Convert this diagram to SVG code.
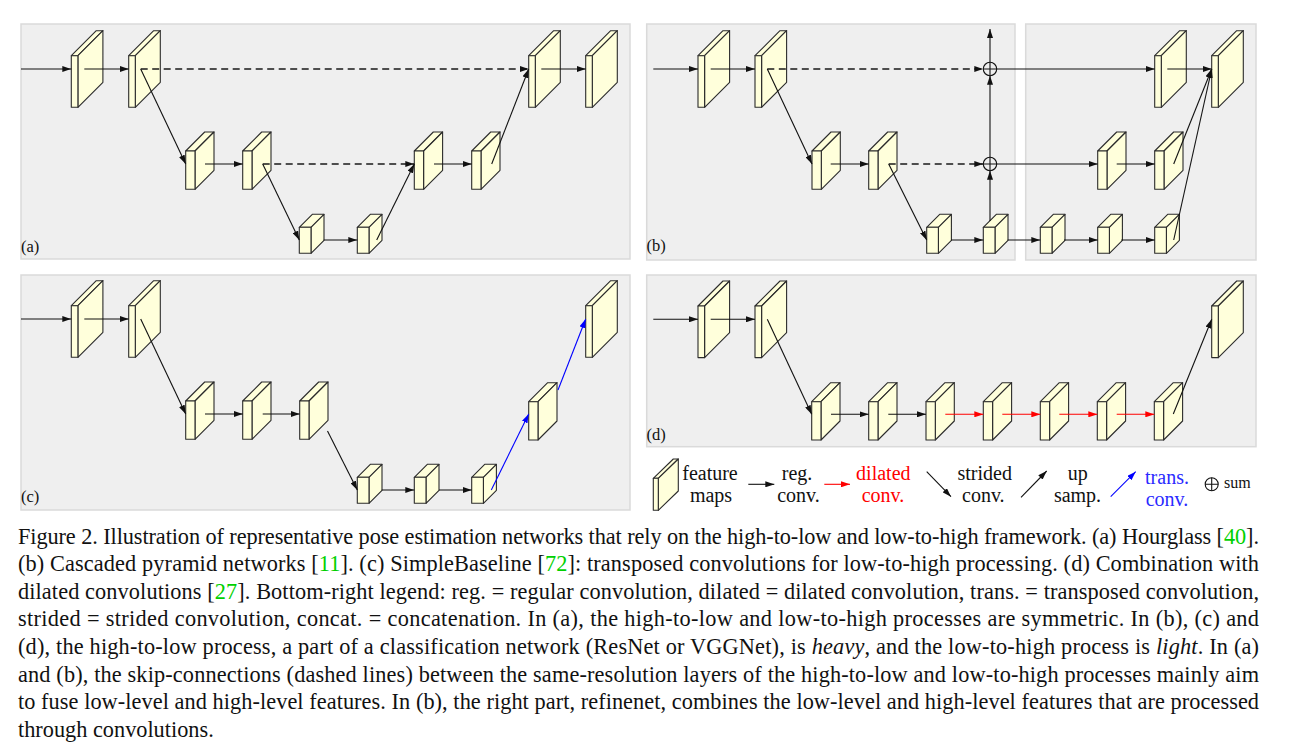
<svg xmlns="http://www.w3.org/2000/svg" width="1310" height="752" viewBox="0 0 1310 752">
<style>
.panel{fill:#efefef;stroke:#dadada;stroke-width:1.5}
.face{fill:#ffffdb;stroke:#2b2b2b;stroke-width:1.1;stroke-linejoin:round}
.c{fill:none;stroke:#111;stroke-width:1.1;marker-end:url(#ah)}
.d{stroke:#1a1a1a;stroke-width:1.3;stroke-dasharray:7 4.5}
.r{stroke:#f00;marker-end:url(#ahr)}
.b{stroke:#00f;marker-end:url(#ahb)}
.n{fill:none;stroke:#111;stroke-width:1.1}
.t{font-family:"Liberation Serif","Times New Roman",serif;fill:#111}
.lab{font-size:16.5px}
.leg{font-size:20px;text-anchor:middle}
.cap{font-size:22.3px}
.g{fill:#00d000}
</style>
<defs>
<marker id="ah" viewBox="0 0 9 6" refX="9" refY="3" markerWidth="9" markerHeight="6" markerUnits="userSpaceOnUse" orient="auto"><path d="M0,0 L9,3 L0,6 z" fill="#111"/></marker>
<marker id="ahr" viewBox="0 0 9 6" refX="9" refY="3" markerWidth="9" markerHeight="6" markerUnits="userSpaceOnUse" orient="auto"><path d="M0,0 L9,3 L0,6 z" fill="#f00"/></marker>
<marker id="ahb" viewBox="0 0 9 6" refX="9" refY="3" markerWidth="9" markerHeight="6" markerUnits="userSpaceOnUse" orient="auto"><path d="M0,0 L9,3 L0,6 z" fill="#00f"/></marker>
<g id="big"><polygon class="face" points="0,0 6.6,0 31.6,-25 25,-25"/><polygon class="face" points="6.6,0 31.6,-25 31.6,26.6 6.6,51.6"/><rect class="face" x="0" y="0" width="6.6" height="51.6"/></g>
<g id="med"><polygon class="face" points="0,0 9.3,0 28.3,-19 19,-19"/><polygon class="face" points="9.3,0 28.3,-19 28.3,19.3 9.3,38.3"/><rect class="face" x="0" y="0" width="9.3" height="38.3"/></g>
<g id="sml"><polygon class="face" points="0,0 11.7,0 24.7,-13 13,-13"/><polygon class="face" points="11.7,0 24.7,-13 24.7,13 11.7,26"/><rect class="face" x="0" y="0" width="11.7" height="26"/></g>
<g id="icon"><polygon class="face" points="0,0 5,0 25,-19.3 20,-19.3"/><polygon class="face" points="5,0 25,-19.3 25,12.7 5,32"/><rect class="face" x="0" y="0" width="5" height="32"/></g>
</defs>
<rect width="1310" height="752" fill="#fff"/>

<g id="panels">
<rect class="panel" x="21" y="24" width="609" height="235"/>
<rect class="panel" x="646.7" y="24" width="368.3" height="236"/>
<rect class="panel" x="1025.7" y="24" width="230.3" height="236"/>
<rect class="panel" x="21" y="275" width="609" height="235"/>
<rect class="panel" x="646.7" y="275" width="609.3" height="171.7"/>
<text class="t lab" x="21" y="252">(a)</text>
<text class="t lab" x="646.5" y="251">(b)</text>
<text class="t lab" x="21" y="502">(c)</text>
<text class="t lab" x="646.5" y="440">(d)</text>
</g>

<!-- (a) nodes -->
<g id="a-n1"><use href="#big" x="71.3" y="55.7"/></g>
<g id="a-n2"><use href="#big" x="128.7" y="55.7"/></g>
<g id="a-n3"><use href="#med" x="185.7" y="151"/></g>
<g id="a-n4"><use href="#med" x="242.7" y="151"/></g>
<g id="a-n5"><use href="#sml" x="299.3" y="227.3"/></g>
<g id="a-n6"><use href="#sml" x="357.3" y="227.3"/></g>
<g id="a-n7"><use href="#med" x="414.3" y="151"/></g>
<g id="a-n8"><use href="#med" x="471.7" y="151"/></g>
<g id="a-n9"><use href="#big" x="528.7" y="55.7"/></g>
<g id="a-n10"><use href="#big" x="585.7" y="55.7"/></g>

<!-- (b) nodes -->
<g id="b-n1"><use href="#big" x="698" y="55.7"/></g>
<g id="b-n2"><use href="#big" x="755" y="55.7"/></g>
<g id="b-n3"><use href="#med" x="812" y="151"/></g>
<g id="b-n4"><use href="#med" x="868.7" y="151"/></g>
<g id="b-n5"><use href="#sml" x="926.7" y="227.3"/></g>
<g id="b-n6"><use href="#sml" x="983.3" y="227.3"/></g>
<g id="b-n7"><use href="#sml" x="1040.3" y="227.3"/></g>
<g id="b-n8"><use href="#sml" x="1097.7" y="227.3"/></g>
<g id="b-n9"><use href="#sml" x="1154.7" y="227.3"/></g>
<g id="b-n10"><use href="#med" x="1097.7" y="151"/></g>
<g id="b-n11"><use href="#med" x="1154.7" y="151"/></g>
<g id="b-n12"><use href="#big" x="1154.7" y="55.7"/></g>
<g id="b-n13"><use href="#big" x="1211.7" y="55.7"/></g>
<g id="b-sum1"><circle class="n" cx="990" cy="69" r="6.7"/><path class="n" d="M983.3,69H996.7M990,62.3V75.7"/></g>
<g id="b-sum2"><circle class="n" cx="990" cy="164" r="6.7"/><path class="n" d="M983.3,164H996.7M990,157.3V170.7"/></g>

<!-- (c) nodes -->
<g id="c-n1"><use href="#big" x="71.3" y="305.7"/></g>
<g id="c-n2"><use href="#big" x="128.7" y="305.7"/></g>
<g id="c-n3"><use href="#med" x="185.7" y="401"/></g>
<g id="c-n4"><use href="#med" x="242.7" y="401"/></g>
<g id="c-n5"><use href="#med" x="299.7" y="401"/></g>
<g id="c-n6"><use href="#sml" x="357.3" y="477.3"/></g>
<g id="c-n7"><use href="#sml" x="414.3" y="477.3"/></g>
<g id="c-n8"><use href="#sml" x="471.7" y="477.3"/></g>
<g id="c-n9"><use href="#med" x="528.7" y="401.7"/></g>
<g id="c-n10"><use href="#big" x="585.7" y="305.7"/></g>

<!-- (d) nodes -->
<g id="d-n1"><use href="#big" x="698" y="306"/></g>
<g id="d-n2"><use href="#big" x="755" y="306"/></g>
<g id="d-n3"><use href="#med" x="811.7" y="401.7"/></g>
<g id="d-n4"><use href="#med" x="868.7" y="401.7"/></g>
<g id="d-n5"><use href="#med" x="926" y="401.7"/></g>
<g id="d-n6"><use href="#med" x="983.3" y="401.7"/></g>
<g id="d-n7"><use href="#med" x="1040.3" y="401.7"/></g>
<g id="d-n8"><use href="#med" x="1097.3" y="401.7"/></g>
<g id="d-n9"><use href="#med" x="1154.3" y="401.7"/></g>
<g id="d-n10"><use href="#big" x="1211.7" y="306"/></g>

<g id="connectors">
<!-- (a) -->
<path class="c" d="M21,69H71.3"/>
<path class="c" d="M84.3,69H128.7"/>
<path class="c d" d="M140.7,69H528.7"/>
<path class="c" d="M140.7,69L185.7,164"/>
<path class="c" d="M205,164H242.7"/>
<path class="c d" d="M262.7,164H414.3"/>
<path class="c" d="M262.7,164L299.3,240"/>
<path class="c" d="M323.7,240H357.3"/>
<path class="c" d="M376.7,240L414.3,164"/>
<path class="c" d="M434,164H471.7"/>
<path class="c" d="M491.7,164L528.7,69"/>
<path class="c" d="M541.3,69H585.7"/>
<!-- (b) -->
<path class="c" d="M653.3,69H698"/>
<path class="c" d="M710.7,69H755"/>
<path class="c d" d="M767.3,69H983.3"/>
<path class="c" d="M767.3,69L812,164"/>
<path class="c" d="M830.7,164H868.7"/>
<path class="c d" d="M888.7,164H983.3"/>
<path class="c" d="M888.7,164L926.7,240"/>
<path class="c" d="M951,240H983.3"/>
<path class="c" d="M990,221V170.7"/>
<path class="c" d="M990,157.3V75.7"/>
<path class="c" d="M990,62.3V29"/>
<path class="c" d="M996.7,69H1154.7"/>
<path class="c" d="M996.7,164H1097.7"/>
<path class="c" d="M1007.7,240H1040.3"/>
<path class="c" d="M1064,240H1097.7"/>
<path class="c" d="M1121.3,240H1154.7"/>
<path class="c" d="M1116.7,164H1154.7"/>
<path class="c" d="M1167.3,69H1211.7"/>
<path class="c" d="M1173.7,164L1211.7,69"/>
<path class="c" d="M1173.7,240L1211.7,69"/>
<!-- (c) -->
<path class="c" d="M21,319H71.3"/>
<path class="c" d="M84.3,319H128.7"/>
<path class="c" d="M140.7,319L185.7,414"/>
<path class="c" d="M205,414H242.7"/>
<path class="c" d="M262.7,414H299.7"/>
<path class="c" d="M327.5,431L357.3,490"/>
<path class="c" d="M381.7,490H414.3"/>
<path class="c" d="M439,490H471.7"/>
<path class="c b" d="M491.3,490L528.7,414"/>
<path class="c b" d="M558,390L585.7,319"/>
<!-- (d) -->
<path class="c" d="M653.3,319.3H698"/>
<path class="c" d="M710.7,319.3H755"/>
<path class="c" d="M767.3,319.3L811.7,414.3"/>
<path class="c" d="M831,414.3H868.7"/>
<path class="c" d="M888.3,414.3H926"/>
<path class="c r" d="M945.3,414.3H983.3"/>
<path class="c r" d="M1002.3,414.3H1040.3"/>
<path class="c r" d="M1059.3,414.3H1097.3"/>
<path class="c r" d="M1116.7,414.3H1154.3"/>
<path class="c" d="M1173.3,414L1211.7,319.3"/>
</g>

<g id="legend">
<use href="#icon" x="653.3" y="478.3"/>
<text class="t leg" x="710" y="480">feature</text>
<text class="t leg" x="711" y="501.7">maps</text>
<path class="c" d="M748.3,484.3H774.3"/>
<text class="t leg" x="797" y="480">reg.</text>
<text class="t leg" x="798.5" y="501.7">conv.</text>
<path class="c r" d="M824.3,484.3H850"/>
<text class="t leg" x="883.3" y="480" style="fill:#f00">dilated</text>
<text class="t leg" x="883" y="501.7" style="fill:#f00">conv.</text>
<path class="c" d="M926.7,471.7L951,496.7"/>
<text class="t leg" x="984.7" y="480">strided</text>
<text class="t leg" x="983.3" y="501.7">conv.</text>
<path class="c" d="M1021,497.3L1046.7,471"/>
<text class="t leg" x="1077.8" y="480">up</text>
<text class="t leg" x="1077.5" y="501.7">samp.</text>
<path class="c b" d="M1110.7,496.7L1135.7,471.7"/>
<text class="t leg" x="1167" y="484.3" style="fill:#2a2aff">trans.</text>
<text class="t leg" x="1167" y="505.7" style="fill:#2a2aff">conv.</text>
<circle class="n" cx="1211.7" cy="484.3" r="6.5"/>
<path class="n" d="M1205.2,484.3H1218.2M1211.7,477.8V490.8"/>
<text class="t" x="1224" y="488.3" style="font-size:16px">sum</text>
</g>

<g id="caption">
<text class="t cap" x="18" y="543.5" textLength="1241" lengthAdjust="spacing">Figure 2. Illustration of representative pose estimation networks that rely on the high-to-low and low-to-high framework. (a) Hourglass [<tspan class="g">40</tspan>].</text>
<text class="t cap" x="18" y="571.1" textLength="1241" lengthAdjust="spacing">(b) Cascaded pyramid networks [<tspan class="g">11</tspan>]. (c) SimpleBaseline [<tspan class="g">72</tspan>]: transposed convolutions for low-to-high processing. (d) Combination with</text>
<text class="t cap" x="18" y="598.7" textLength="1241" lengthAdjust="spacing">dilated convolutions [<tspan class="g">27</tspan>]. Bottom-right legend: reg. = regular convolution, dilated = dilated convolution, trans. = transposed convolution,</text>
<text class="t cap" x="18" y="626.3" textLength="1241" lengthAdjust="spacing">strided = strided convolution, concat. = concatenation. In (a), the high-to-low and low-to-high processes are symmetric. In (b), (c) and</text>
<text class="t cap" x="18" y="653.9" textLength="1241" lengthAdjust="spacing">(d), the high-to-low process, a part of a classification network (ResNet or VGGNet), is <tspan font-style="italic">heavy</tspan>, and the low-to-high process is <tspan font-style="italic">light</tspan>. In (a)</text>
<text class="t cap" x="18" y="681.5" textLength="1241" lengthAdjust="spacing">and (b), the skip-connections (dashed lines) between the same-resolution layers of the high-to-low and low-to-high processes mainly aim</text>
<text class="t cap" x="18" y="709.1" textLength="1241" lengthAdjust="spacing">to fuse low-level and high-level features. In (b), the right part, refinenet, combines the low-level and high-level features that are processed</text>
<text class="t cap" x="18" y="736.7">through convolutions.</text>
</g>
</svg>
